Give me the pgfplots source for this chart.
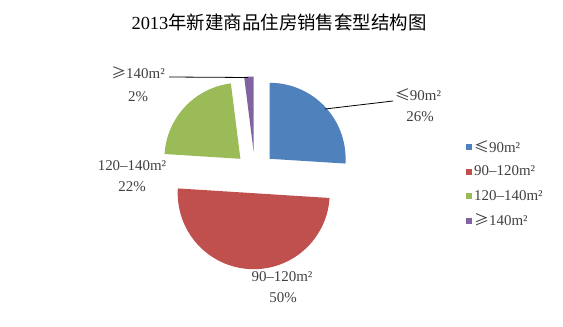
\documentclass[border=0pt]{standalone}
\usepackage{pgfplots}
\pgfplotsset{compat=1.18}
\usepackage{fontspec}
\setmainfont{Liberation Serif}
\newfontfamily\cjk{Noto Sans CJK SC}
\definecolor{c1}{HTML}{4F81BD}
\definecolor{c2}{HTML}{C0504D}
\definecolor{c3}{HTML}{9BBB59}
\definecolor{c4}{HTML}{8064A2}
\definecolor{lbl}{HTML}{404040}
\begin{document}
\begin{tikzpicture}
\useasboundingbox (0,0) rectangle (563bp,327bp);
\begin{axis}[
  at={(0,0)}, anchor=south west,
  width=563bp, height=327bp, scale only axis,
  xmin=0, xmax=563, ymin=0, ymax=327,
  hide axis, clip=false,
  legend cell align=left,
  legend image code/.code={\fill[#1] (0bp,-3bp) rectangle (6bp,3bp);},
  legend style={draw=none, fill=none, inner sep=0pt,
    at={(axis cs:466,192.25)}, anchor=north west,
    font=\fontsize{15}{17}\selectfont, text=lbl,
    row sep=0pt, column sep=0pt,
    nodes={inner xsep=2bp, inner ysep=0pt, minimum height=24.5bp},
    /tikz/every even column/.append style={column sep=4bp}},
]
% shares: <=90: 26%, 90-120: 50%, 120-140: 22%, >=140: 2%
\addplot[fill=c1, draw=none, domain=-3.6:90, samples=60]
  ({269.6+76*cos(x)},{168.2+76*sin(x)}) -- (axis cs:269.6,168.2) -- cycle;
\addlegendentry{{\cjk ≤}90m²}
\addplot[fill=c2, draw=none, domain=-183.6:-3.6, samples=100]
  ({253.7+76*cos(x)},{133.8+76*sin(x)}) -- (axis cs:253.7,133.8) -- cycle;
\addlegendentry{90–120m²}
\addplot[fill=c3, draw=none, domain=97.2:176.4, samples=50]
  ({240.4+76*cos(x)},{168.2+76*sin(x)}) -- (axis cs:240.4,168.2) -- cycle;
\addlegendentry{120–140m²}
\addplot[fill=c4, draw=none, domain=90:97.2, samples=8]
  ({253.7+76*cos(x)},{174.5+76*sin(x)}) -- (axis cs:253.7,174.5) -- cycle;
\addlegendentry{{\cjk ≥}140m²}
% leader lines
\addplot[black, line width=0.8pt, forget plot] coordinates {(325,218) (393,226)};
\addplot[black, line width=0.8pt, forget plot] coordinates {(169,250) (248,249.5)};
% labels
\node[font=\fontsize{15}{17}\selectfont, text=lbl] at (axis cs:418,232) {{\cjk ≤}90m²};
\node[font=\fontsize{15}{17}\selectfont, text=lbl] at (axis cs:420,210) {26\%};
\node[font=\fontsize{15}{17}\selectfont, text=lbl] at (axis cs:282,50) {90–120m²};
\node[font=\fontsize{15}{17}\selectfont, text=lbl] at (axis cs:283,29) {50\%};
\node[font=\fontsize{15}{17}\selectfont, text=lbl] at (axis cs:132,161) {120–140m²};
\node[font=\fontsize{15}{17}\selectfont, text=lbl] at (axis cs:132,140) {22\%};
\node[font=\fontsize{15}{17}\selectfont, text=lbl] at (axis cs:138,254) {{\cjk ≥}140m²};
\node[font=\fontsize{15}{17}\selectfont, text=lbl] at (axis cs:138,230) {2\%};
% title
\node[font=\fontsize{18.5}{20}\selectfont, text=black] at (axis cs:279,305) {2013{\cjk 年新建商品住房销售套型结构图}};
\end{axis}
\end{tikzpicture}
\end{document}
